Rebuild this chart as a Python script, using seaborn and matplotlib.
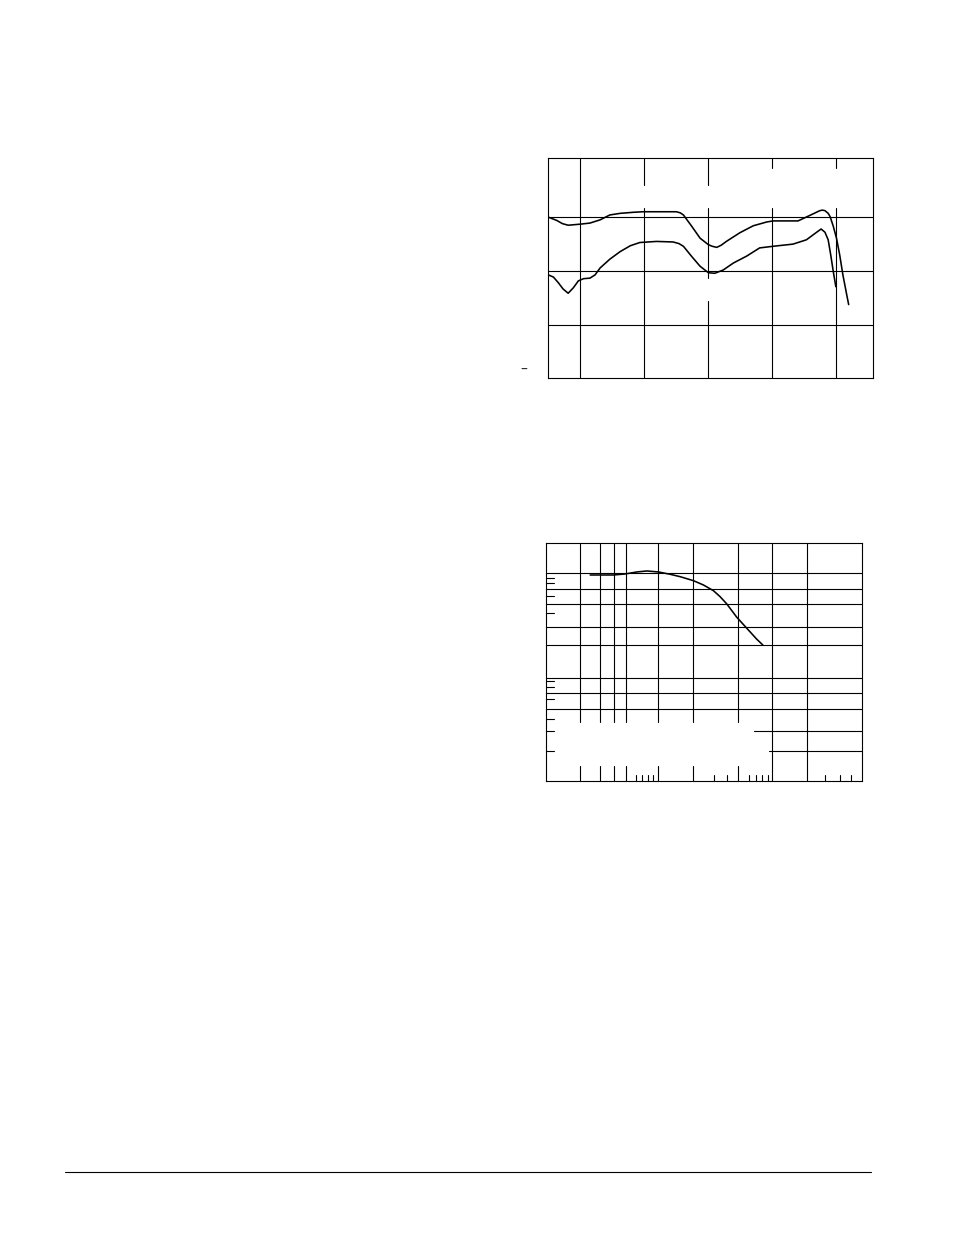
import matplotlib
matplotlib.use("Agg")
import matplotlib.pyplot as plt
import seaborn as sns
import numpy as np
import pandas as pd
from matplotlib.lines import Line2D

# ---- top chart (two response curves), grid units ----
top_x_grid = [1, 2, 3, 4, 5]
top_y_grid = [1, 0, -1]
top_xlim = (0.50, 5.57)
top_ylim = (-1.98, 2.09)
# vertical grid segments (x, y_from, y_to) - gaps where the labels were
top_vsegs = [
    (1, -1.98, 2.09),
    (2, 1.60, 2.09), (2, -1.98, 1.17),
    (3, 1.60, 2.09), (3, -0.13, 1.17), (3, -1.98, -0.56),
    (4, 1.91, 2.09), (4, -1.98, 1.17),
    (5, 1.91, 2.09), (5, -1.98, 1.17),
]

upper_x = [0.50, 0.63, 0.72, 0.81, 1.00, 1.15, 1.31, 1.46, 1.62, 1.83, 1.98, 2.50, 2.56, 2.61,
           2.74, 2.87, 3.00, 3.06, 3.13, 3.20, 3.28, 3.49, 3.70, 3.91, 4.01, 4.22, 4.40, 4.58,
           4.74, 4.78, 4.82, 4.87, 4.90, 4.95, 5.00, 5.05, 5.10, 5.16, 5.19]
upper_y = [1.00, 0.94, 0.88, 0.85, 0.87, 0.89, 0.95, 1.04, 1.07, 1.09, 1.10, 1.10, 1.08, 1.04,
           0.83, 0.61, 0.49, 0.46, 0.44, 0.48, 0.55, 0.71, 0.84, 0.91, 0.93, 0.93, 0.93, 1.03,
           1.12, 1.13, 1.12, 1.07, 1.01, 0.83, 0.61, 0.30, -0.07, -0.44, -0.62]

lower_x = [0.50, 0.58, 0.66, 0.73, 0.81, 0.89, 0.97, 1.05, 1.15, 1.23, 1.31, 1.46,
           1.62, 1.78, 1.93, 2.19, 2.45, 2.54, 2.61, 2.74, 2.87, 3.00, 3.10, 3.23, 3.39,
           3.60, 3.80, 4.01, 4.32, 4.53, 4.69, 4.76, 4.82, 4.87, 4.91, 4.95, 4.99]
lower_y = [-0.07, -0.11, -0.22, -0.33, -0.41, -0.31, -0.18, -0.14, -0.13, -0.07, 0.06, 0.22,
           0.36, 0.47, 0.53, 0.55, 0.54, 0.51, 0.46, 0.27, 0.09, -0.03, -0.04, 0.02, 0.15,
           0.28, 0.43, 0.46, 0.50, 0.58, 0.72, 0.78, 0.72, 0.58, 0.30, -0.01, -0.29]

# ---- bottom chart (single roll-off curve), percent of frame ----
bot_xlim = (0, 100)
bot_ylim = (0, 100)
bot_x_grid = [10.76, 17.09, 21.52, 25.06, 35.44, 46.52, 60.76]   # stop at bot_v_end
bot_x_full = [71.52, 82.34]
bot_v_end = 25.0
bot_y_grid = [87.39, 80.66, 74.36, 64.69, 57.12, 43.51, 36.95, 30.22]
bot_y_part = [(20.98, 65.73), (12.57, 70.57)]   # (y, x_start)
bot_major_ticks = bot_x_grid
bot_minor_ticks = [28.29, 30.38, 32.09, 33.86, 53.16, 57.28, 64.24, 66.46,
                   68.35, 70.25, 88.29, 93.04, 96.52]
bot_left_ticks = [85.29, 83.19, 77.85, 70.58, 42.12, 39.60, 34.55, 26.02, 20.98, 12.57]

curve_x = [13.83, 16.99, 21.20, 24.91, 28.61, 31.77, 35.44, 39.15, 42.31, 46.52,
           49.68, 52.85, 54.97, 57.09, 60.25, 63.42, 66.58, 68.48]
curve_y = [86.67, 86.67, 86.67, 87.10, 87.94, 88.36, 87.94, 86.97, 85.96, 84.28,
           82.47, 80.08, 77.55, 74.49, 68.89, 64.27, 59.65, 57.25]

sns.set_style("white")
plt.rcParams['font.family'] = ['DejaVu Sans']
plt.rcParams['lines.solid_joinstyle'] = 'round'

W, H = 954, 1235
fig = plt.figure(figsize=(W / 100, H / 100), dpi=100)
lw = 0.8
clw = 1.15


def frame(ax):
    ax.set_xticks([])
    ax.set_yticks([])
    for s in ax.spines.values():
        s.set_visible(True)
        s.set_color("black")
        s.set_linewidth(lw)


# top chart
ax1 = fig.add_axes([548.3 / W, 1 - 378 / H, (873 - 548.3) / W, (378 - 158.3) / H])
frame(ax1)
ax1.set_xlim(*top_xlim)
ax1.set_ylim(*top_ylim)
for y in top_y_grid:
    ax1.axhline(y, color="black", lw=lw)
for x, y0, y1 in top_vsegs:
    ax1.plot([x, x], [y0, y1], color="black", lw=lw)
sns.lineplot(x=upper_x, y=upper_y, ax=ax1, color="black", lw=clw, estimator=None, sort=False)
sns.lineplot(x=lower_x, y=lower_y, ax=ax1, color="black", lw=clw, estimator=None, sort=False)
ax1.text(0.12, -1.83, "\u2013", fontsize=10, ha="center", va="center", clip_on=False)

# bottom chart
ax2 = fig.add_axes([546.5 / W, 1 - 781 / H, (862.3 - 546.5) / W, (781 - 543.3) / H])
frame(ax2)
ax2.set_xlim(*bot_xlim)
ax2.set_ylim(*bot_ylim)
for y in bot_y_grid:
    ax2.axhline(y, color="black", lw=lw)
for y, x0 in bot_y_part:
    ax2.plot([x0, 100], [y, y], color="black", lw=lw)
for x in bot_x_grid:
    ax2.plot([x, x], [bot_v_end, 100], color="black", lw=lw)
for x in bot_x_full:
    ax2.axvline(x, color="black", lw=lw)
for x in bot_major_ticks:
    ax2.plot([x, x], [0, 6.39], color="black", lw=lw)
for x in bot_minor_ticks:
    ax2.plot([x, x], [0, 2.61], color="black", lw=lw)
for y in bot_left_ticks:
    ax2.plot([0, 2.3], [y, y], color="black", lw=lw)
sns.lineplot(x=curve_x, y=curve_y, ax=ax2, color="black", lw=clw, estimator=None, sort=False)

# page footer rule
fig.add_artist(Line2D([65 / W, 871 / W], [1 - 1172 / H, 1 - 1172 / H],
                      color="black", lw=lw))

fig.savefig("out.png", dpi=100, facecolor="white")
